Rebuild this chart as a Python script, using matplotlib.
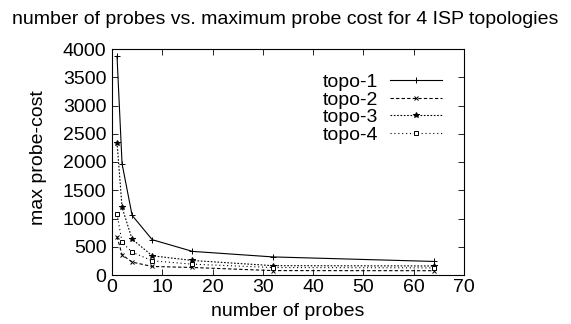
import matplotlib
matplotlib.use("Agg")
import matplotlib.pyplot as plt

probes = [1, 2, 4, 8, 16, 32, 64]
topo1 = [3870, 1970, 1055, 625, 418, 320, 240]
topo2 = [680, 358, 228, 151, 133, 78, 76]
topo3 = [2345, 1196, 635, 340, 257, 165, 160]
topo4 = [1084, 576, 405, 251, 192, 132, 126]
labels = ["topo-1", "topo-2", "topo-3", "topo-4"]

plt.rcParams['font.family'] = ['Liberation Sans', 'DejaVu Sans']
fig = plt.figure(figsize=(5.71, 3.24), dpi=100)
ax = fig.add_axes([112/571, 1-275/324, (464-112)/571, (275-49)/324])

styles = [
    dict(ls='-', marker='+', ms=4.5, mfc='black'),
    dict(ls=(0, (3, 2)), marker='x', ms=3.5),
    dict(ls=(0, (1.5, 1.5)), marker='*', ms=4),
    dict(ls=(0, (1, 2.5)), marker='s', ms=3.5, mfc='white'),
]
for ys, lab, st in zip([topo1, topo2, topo3, topo4], labels, styles):
    ax.plot(probes, ys, color='black', lw=0.8, mew=0.7, label=lab, **st)

FS = 14
ax.set_xlim(0, 70)
ax.set_ylim(0, 4000)
ax.set_xticks(range(0, 71, 10))
ax.set_yticks(range(0, 4001, 500))
ax.tick_params(direction='in', top=True, right=True, labelsize=FS, length=4, width=0.6, pad=4)
ax.tick_params(axis='x', pad=3)
for s in ax.spines.values():
    s.set_linewidth(0.8)

fig.text((112+464)/2/571, 1-312/324, "number of probes", ha='center', va='center', fontsize=FS)
fig.text(39/571, 1-158/324, "max probe-cost", ha='center', va='center', fontsize=FS, rotation=90)
fig.text(0.5, 1-19/324, "number of probes vs. maximum probe cost for 4 ISP topologies",
         ha='center', va='center', fontsize=FS)

leg = ax.legend(loc='upper right', bbox_to_anchor=(0.966, 0.935), frameon=False,
                markerfirst=False, fontsize=FS, handlelength=2.7, labelspacing=0.0,
                handletextpad=0.6, borderpad=0)
for t in leg.get_texts():
    t.set_ha('right')

fig.savefig("out.png", dpi=100)
